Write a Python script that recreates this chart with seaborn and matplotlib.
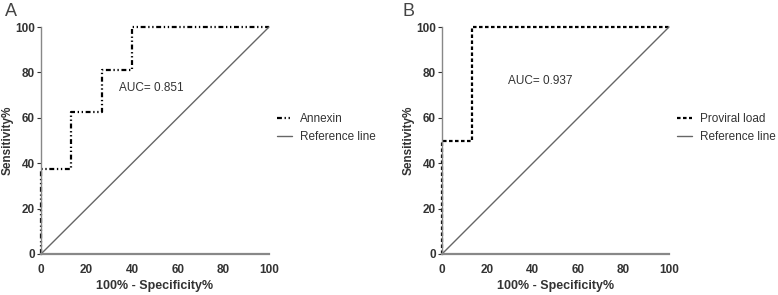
import matplotlib
matplotlib.use("Agg")
import matplotlib.pyplot as plt
from matplotlib.lines import Line2D
import seaborn as sns

# ROC curve points (100% - specificity, sensitivity)
annexin_fpr = [0, 0, 13.3, 13.3, 26.7, 26.7, 40, 40, 100]
annexin_tpr = [0, 37.5, 37.5, 62.5, 62.5, 81.25, 81.25, 100, 100]
proviral_fpr = [0, 0, 13.3, 13.3, 100]
proviral_tpr = [0, 50, 50, 100, 100]
ref_x = [0, 100]
ref_y = [0, 100]

ticks = [0, 20, 40, 60, 80, 100]
auc_labels = ["AUC= 0.851", "AUC= 0.937"]
names = ["Annexin", "Proviral load"]
panels = ["A", "B"]

sns.set_style("white")
plt.rcParams["font.family"] = ["Liberation Sans", "DejaVu Sans"]

txt = "#333333"
fig = plt.figure(figsize=(7.78, 2.95), dpi=100)
ax_a = fig.add_axes([41 / 778, 1 - 254 / 295, 228 / 778, 227 / 295])
ax_b = fig.add_axes([442 / 778, 1 - 254 / 295, 227 / 778, 227 / 295])

lw = 1.6
curves = [(annexin_fpr, annexin_tpr, (2.2, 1.2, 0.6, 1.2, 0.6, 1.2)),
          (proviral_fpr, proviral_tpr, (1.6, 1.1))]
auc_pos = [(34, 73), (29, 76)]

for i, ax in enumerate([ax_a, ax_b]):
    fx, fy, dash = curves[i]
    sns.lineplot(x=fx, y=fy, ax=ax, sort=False, estimator=None,
                 color="black", linewidth=lw)
    line = ax.lines[-1]
    line.set_dashes(dash)
    line.set_clip_on(False)
    sns.lineplot(x=ref_x, y=ref_y, ax=ax, sort=False, estimator=None,
                 color="#666666", linewidth=1.0)
    ax.lines[-1].set_clip_on(False)

    ax.set_xlim(0, 100)
    ax.set_ylim(0, 100)
    ax.set_xticks(ticks)
    ax.set_yticks(ticks)
    ax.tick_params(axis="both", labelsize=8.5, colors=txt, length=3, width=0.8,
                   left=True, bottom=False)
    ax.tick_params(axis="x", pad=4)
    ax.tick_params(axis="y", pad=1.5)
    for lab in ax.get_xticklabels() + ax.get_yticklabels():
        lab.set_fontweight("bold")
    sns.despine(ax=ax)
    ax.spines["left"].set_color("#888888")
    ax.spines["left"].set_linewidth(1.0)
    ax.spines["bottom"].set_color("#888888")
    ax.spines["bottom"].set_linewidth(1.6)
    ax.set_xlabel("100% - Specificity%", fontsize=9, fontweight="bold", color=txt,
                  labelpad=3)
    ax.set_ylabel("Sensitivity%", fontsize=8.5, fontweight="bold", color=txt,
                  labelpad=1)
    ax.text(auc_pos[i][0], auc_pos[i][1], auc_labels[i], fontsize=8.5, color=txt,
            va="center")

    handles = [Line2D([], [], color="black", linewidth=lw, dashes=dash),
               Line2D([], [], color="#666666", linewidth=1.0)]
    ax.legend(handles, [names[i], "Reference line"], loc="center left",
              bbox_to_anchor=(1.0, 0.555), frameon=False, fontsize=8.5,
              handlelength=1.3, handletextpad=0.7, labelspacing=0.45,
              labelcolor=txt, borderaxespad=0.25)

fig.text(5 / 778, 1 - 11 / 295, panels[0], fontsize=13, color="#444444",
         va="center", ha="left")
fig.text(402 / 778, 1 - 11 / 295, panels[1], fontsize=13, color="#444444",
         va="center", ha="left")

fig.savefig("out.png", dpi=100)
